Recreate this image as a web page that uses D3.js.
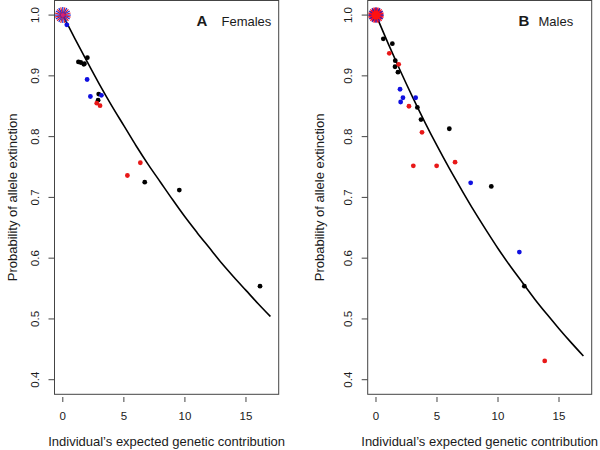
<!DOCTYPE html>
<html><head><meta charset="utf-8">
<script src="https://cdn.jsdelivr.net/npm/d3@7"></script>
<style>body{margin:0;background:#fff}svg{display:block}text{font-family:"Liberation Sans",Arial,Helvetica,sans-serif;fill:#1a1a1a}</style>
</head><body><svg id="c" width="600" height="450"></svg>
<script>
// ---- data ----
const xTicks = [0, 5, 10, 15];
const yTicks = [0.4, 0.5, 0.6, 0.7, 0.8, 0.9, 1.0];
const curveX = [0,1,2,3,4,5,6,7,8,9,10,11,12,13,14,15,16,17];
const femalesCurve = [1.000,0.961,0.923,0.886,0.851,0.818,0.785,0.754,0.725,0.696,0.668,0.642,0.617,0.592,0.569,0.547,0.525,0.504];
const malesCurve   = [1.000,0.953,0.908,0.865,0.824,0.785,0.748,0.713,0.679,0.647,0.616,0.587,0.560,0.533,0.508,0.484,0.461,0.439];

const femalesBlack = [[1.28,0.923],[1.47,0.922],[1.72,0.919],[1.77,0.920],[2.01,0.930],[2.94,0.870],[2.89,0.860],[6.71,0.725],[9.54,0.712],[16.15,0.554]];
const femalesBlue  = [[0.33,0.984],[1.99,0.894],[2.26,0.866],[3.16,0.868]];
const femalesRed   = [[2.78,0.855],[3.05,0.851],[6.35,0.757],[5.29,0.736]];

const malesBlack = [[0.60,0.961],[1.34,0.953],[1.58,0.925],[1.56,0.915],[1.80,0.906],[3.39,0.848],[3.69,0.828],[6.01,0.813],[9.45,0.718],[12.16,0.554]];
const malesBlue  = [[1.97,0.878],[2.21,0.864],[2.02,0.857],[3.25,0.864],[7.76,0.724],[11.75,0.610]];
const malesRed   = [[1.09,0.937],[1.86,0.919],[2.70,0.850],[3.77,0.807],[6.48,0.758],[3.06,0.752],[4.97,0.752],[13.83,0.431]];

const panels = [
  {letter:"A", name:"Females", left:54.5, right:278.7, curve:femalesCurve, black:femalesBlack, blue:femalesBlue, red:femalesRed, yTitleX:13, burst:"A"},
  {letter:"B", name:"Males", left:367.7, right:591.7, curve:malesCurve, black:malesBlack, blue:malesBlue, red:malesRed, yTitleX:320, burst:"B"}
];

const svg = d3.select("#c");
const boxTop = 0.5, boxBottom = 394.3;

panels.forEach(p => {
  const x = d3.scaleLinear().domain([-0.68, 17.68]).range([p.left, p.right]);
  const y = d3.scaleLinear().domain([0.376, 1.024]).range([boxBottom, boxTop]);
  const g = svg.append("g");

  // curve
  const line = d3.line().x((d,i)=>x(curveX[i])).y(d=>y(d)).curve(d3.curveMonotoneX);
  g.append("path").datum(p.curve).attr("d", line).attr("fill","none").attr("stroke","#000").attr("stroke-width",1.6);

  // points
  [["#000", p.black],["#1010e0", p.blue],["#e81818", p.red]].forEach(([col, arr]) => {
    g.selectAll(null).data(arr).enter().append("circle")
      .attr("cx", d=>x(d[0])).attr("cy", d=>y(d[1])).attr("r", 2.4).attr("fill", col);
  });

  // starburst at (0, 1)
  const cx = x(0), cy = y(1.0);
  const bg = g.append("g");
  if (p.burst === "B") {
    bg.append("circle").attr("cx",cx).attr("cy",cy).attr("r",7).attr("fill","#c0206a");
  }
  d3.range(24).forEach(i => {
    const a = i * Math.PI * 2 / 24;
    const col = p.burst === "A" ? (i % 2 ? "#e01830" : "#1f2ad8") : (i % 2 ? "#ff1020" : "#4a1a9a");
    bg.append("line").attr("x1",cx).attr("y1",cy)
      .attr("x2",cx+8*Math.cos(a)).attr("y2",cy+8*Math.sin(a))
      .attr("stroke",col).attr("stroke-width",1.2);
  });
  if (p.burst === "B") {
    bg.append("circle").attr("cx",cx).attr("cy",cy).attr("r",4.5).attr("fill","#ff1010");
  } else {
    bg.append("circle").attr("cx",cx).attr("cy",cy).attr("r",2).attr("fill","#d0207a");
  }

  // box
  g.append("rect").attr("x",p.left).attr("y",boxTop).attr("width",p.right-p.left).attr("height",boxBottom-boxTop)
    .attr("fill","none").attr("stroke","#444").attr("stroke-width",1);

  // x axis (detached ticks)
  const xa = g.append("g");
  xa.selectAll(null).data(xTicks).enter().append("line")
    .attr("x1",d=>x(d)).attr("x2",d=>x(d)).attr("y1",397).attr("y2",402).attr("stroke","#444");
  xa.selectAll(null).data(xTicks).enter().append("text")
    .attr("x",d=>x(d)).attr("y",420).attr("text-anchor","middle").attr("font-size",11.5).text(d=>d);
  g.append("text").attr("x",(p.left+p.right)/2).attr("y",446).attr("text-anchor","middle")
    .attr("font-size",13).text("Individual\u2019s expected genetic contribution");

  // y axis
  const ya = g.append("g");
  ya.selectAll(null).data(yTicks).enter().append("line")
    .attr("x1",p.left-6).attr("x2",p.left).attr("y1",d=>y(d)).attr("y2",d=>y(d)).attr("stroke","#444");
  ya.selectAll(null).data(yTicks).enter().append("text")
    .attr("transform",d=>`translate(${p.left-16},${y(d)}) rotate(-90)`)
    .attr("text-anchor","middle").attr("font-size",11.5).text(d=>d.toFixed(1));
  g.append("text").attr("transform",`translate(${p.yTitleX+4},${(boxTop+boxBottom)/2}) rotate(-90)`)
    .attr("text-anchor","middle").attr("font-size",13).text("Probability of allele extinction");

  // panel label
  const lx = p.letter === "A" ? 196.5 : 518.5;
  g.append("text").attr("x",lx).attr("y",25.5).attr("font-size",15).attr("font-weight","bold").text(p.letter);
  g.append("text").attr("x",lx + (p.letter==="A"?25:20)).attr("y",25.5).attr("font-size",13).text(p.name);
});
</script>
</body></html>
